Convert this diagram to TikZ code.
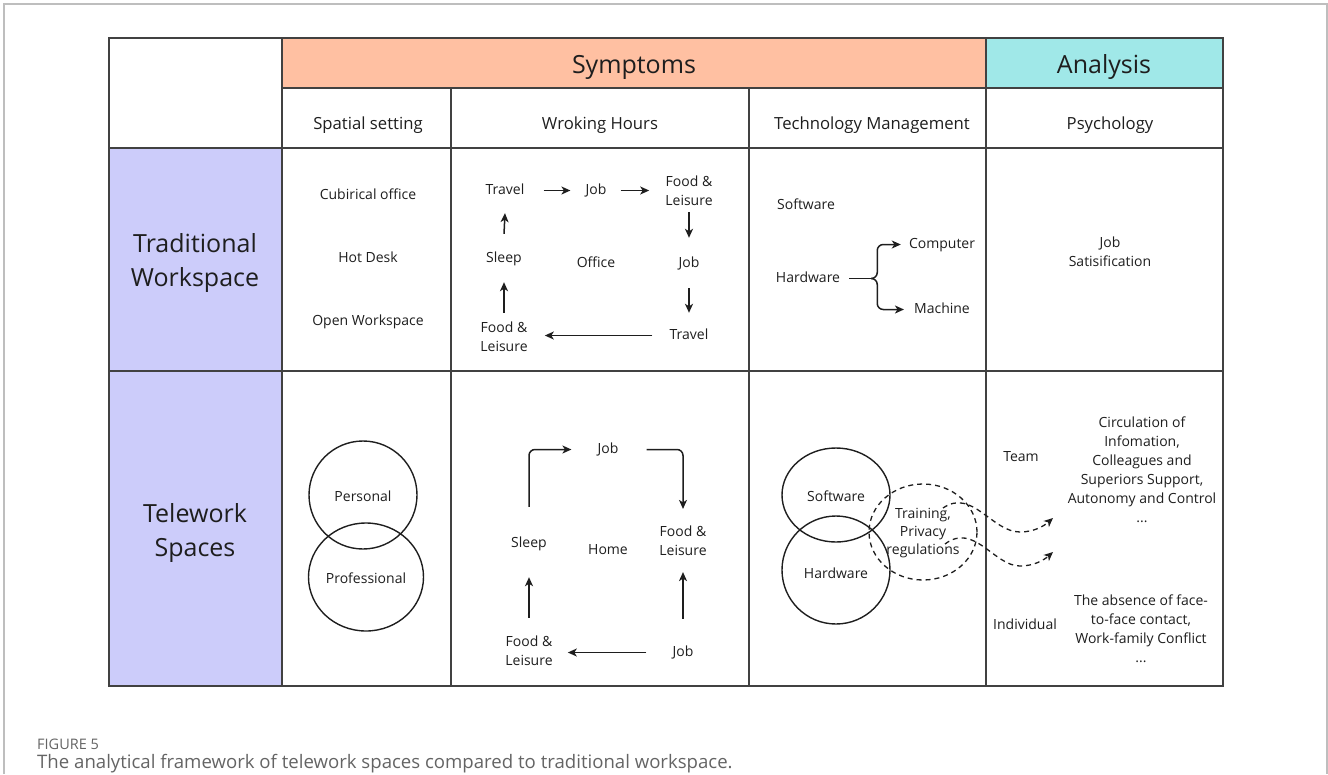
\documentclass[tikz,border=0pt]{standalone}
\usepackage{fontspec}
\setmainfont{Open Sans}
\usetikzlibrary{arrows.meta,shapes.geometric}
\definecolor{sympc}{RGB}{255,192,162}
\definecolor{analc}{RGB}{160,232,232}
\definecolor{rowc}{RGB}{204,204,250}
\definecolor{gridc}{RGB}{65,65,65}
\definecolor{txtc}{RGB}{30,30,30}
\definecolor{capc}{RGB}{100,100,100}
\definecolor{framec}{RGB}{190,190,190}
\tikzset{
  gridline/.style={draw=gridc, line width=1.9pt},
  body/.style={font=\fontsize{14}{19}\selectfont, text=txtc, align=center, inner sep=0pt, yshift=-1pt},
  lbl/.style={font=\fontsize{14}{19}\selectfont, text=txtc, align=center, inner sep=0pt, text height=10pt, text depth=3pt, yshift=-2.5pt},
  hdr/.style={font=\fontsize{16.7}{19}\selectfont, text=txtc, inner sep=0pt, yshift=-2pt},
  ttl/.style={font=\fontsize{25}{34}\selectfont, text=txtc, align=center, inner sep=0pt, yshift=-3pt},
  arr/.style={draw=txtc, line width=1.5pt, -{Stealth[length=9pt,width=8pt,inset=2.5pt]}},
  plain/.style={draw=txtc, line width=1.5pt},
  venn/.style={ellipse, draw=txtc, line width=1.4pt, inner sep=0pt},
  dsh/.style={draw=txtc, line width=1.3pt, dash pattern=on 5pt off 4pt},
}
\begin{document}
\begin{tikzpicture}[x=1pt,y=-1pt]
\useasboundingbox (0,0) rectangle (1328,774);
% outer frame
\draw[framec, line width=1.5pt] (4,774) -- (4,4) -- (1327,4) -- (1327,774);
% fills
\fill[sympc] (282,38) rectangle (986,88);
\fill[analc] (986,38) rectangle (1223,88);
\fill[rowc] (109,148) rectangle (282,371);
\fill[rowc] (109,371) rectangle (282,686);
% grid
\draw[gridline] (109,38) rectangle (1223,686);
\draw[gridline] (282,88) -- (1223,88);
\draw[gridline] (109,148) -- (1223,148);
\draw[gridline] (109,371) -- (1223,371);
\draw[gridline] (282,38) -- (282,686);
\draw[gridline] (451,88) -- (451,686);
\draw[gridline] (749,88) -- (749,686);
\draw[gridline] (986,38) -- (986,686);
% headers
\node[ttl] (symp) at (634,64) {Symptoms};
\node[ttl] (anal) at (1104,64) {Analysis};
\node[hdr] (h1) at (368,123) {Spatial setting};
\node[hdr] (h2) at (600,123) {Wroking Hours};
\node[hdr] (h3) at (872,123) {Technology Management};
\node[hdr] (h4) at (1110,123) {Psychology};
\node[ttl] (trad) at (195,260) {Traditional\\Workspace};
\node[ttl] (tele) at (195,530) {Telework\\Spaces};
% spatial traditional
\node[lbl] (cub) at (368,193) {Cubirical office};
\node[lbl] (hot) at (368,256) {Hot Desk};
\node[lbl] (open) at (368,319) {Open Workspace};
% working hours traditional
\node[lbl] (tr1) at (505,188) {Travel};
\node[lbl] (jb1) at (596,188) {Job};
\node[body] (fl1) at (689,190) {Food \&\\Leisure};
\node[lbl] (jb2) at (689,261) {Job};
\node[lbl] (tr2) at (689,333) {Travel};
\node[body] (fl2) at (504,336) {Food \&\\Leisure};
\node[lbl] (sl1) at (504,256) {Sleep};
\node[lbl] (off) at (596,261) {Office};
\draw[arr] ([xshift=19pt]tr1.east) -- ([xshift=-15pt]jb1.west);
\draw[arr] ([xshift=14pt]jb1.east) -- ([xshift=-16pt]fl1.west |- jb1.east);
\draw[arr] ([yshift=-6pt]fl1.south) -- ([yshift=19pt]jb2.north);
\draw[arr] ([yshift=-18pt]jb2.south) -- ([yshift=16pt]tr2.north);
\draw[arr] ([xshift=-17pt]tr2.west) -- ([xshift=17pt]fl2.east |- tr2.west);
\draw[arr] ([yshift=9pt]fl2.north) -- ([yshift=-17pt]sl1.south);
\draw[arr] ([yshift=18pt]sl1.north) -- ([yshift=-16pt]tr1.south);
% technology traditional
\node[lbl] (sw1) at (806,203) {Software};
\node[lbl] (hw1) at (808,276) {Hardware};
\node[lbl] (comp) at (942,242) {Computer};
\node[lbl] (mach) at (942,307) {Machine};
\draw[plain] ([xshift=9pt]hw1.east) -- ([xshift=31pt]hw1.east) coordinate (br);
\draw[arr, rounded corners=6pt] (br) -| ([xshift=6pt]br |- comp.west) -- ([xshift=-8pt]comp.west);
\draw[arr, rounded corners=6pt] (br) -| ([xshift=6pt]br |- mach.west) -- ([xshift=-10pt]mach.west);
% psychology traditional
\node[body] (js) at (1110,251) {Job\\Satisification};
% spatial telework
\node[venn, minimum width=108pt, minimum height=108pt] (pers) at (363,495) {};
\node[venn, minimum width=115pt, minimum height=108pt] (prof) at (366,577) {};
\node[lbl] (perst) at (pers.center) {Personal};
\node[lbl] (proft) at (prof.center) {Professional};
% working hours telework
\node[lbl] (jb3) at (608,447) {Job};
\node[body] (fl3) at (683,540) {Food \&\\Leisure};
\node[lbl] (sl2) at (529,541) {Sleep};
\node[lbl] (home) at (608,548) {Home};
\node[body] (fl4) at (529,650) {Food \&\\Leisure};
\node[lbl] (jb4) at (683,650) {Job};
\draw[arr, rounded corners=6pt] ([yshift=30pt]sl2.north) |- ([xshift=-26pt]jb3.west);
\draw[arr, rounded corners=6pt] ([xshift=28pt]jb3.east) -| ([yshift=17pt]fl3.north);
\draw[arr] ([yshift=18pt]fl4.north) -- ([yshift=-27pt]sl2.south);
\draw[arr] ([yshift=27pt]jb4.north) -- ([yshift=-16pt]fl3.south);
\draw[arr] ([xshift=-26pt]jb4.west) -- ([xshift=15pt]fl4.east |- jb4.west);
% technology telework
\node[venn, minimum width=108pt, minimum height=94pt] (sw2) at (836,495) {};
\node[venn, minimum width=108pt, minimum height=108pt] (hw2) at (836,570) {};
\node[lbl] (sw2t) at (sw2.center) {Software};
\node[lbl] (hw2t) at ([yshift=-2pt]hw2.center) {Hardware};
\node[ellipse, dsh, minimum width=108pt, minimum height=96pt, inner sep=0pt] (trn) at (923,532) {};
\node[body, font=\fontsize{14}{18}\selectfont] (trnt) at (trn.center) {Training,\\Privacy\\regulations};
\coordinate (d1s) at (943,508);
\coordinate (d1e) at (1053,518);
\coordinate (d2s) at (945,544);
\coordinate (d2e) at (1053,552);
\draw[dsh, -{Stealth[length=9pt,width=8pt,inset=2.5pt]}] (d1s) .. controls (972,488) and (992,532) .. (1020,532) .. controls (1034,532) and (1044,526) .. (d1e);
\draw[dsh, -{Stealth[length=9pt,width=8pt,inset=2.5pt]}] (d2s) .. controls (974,522) and (994,566) .. (1020,566) .. controls (1034,566) and (1044,560) .. (d2e);
% psychology telework
\node[lbl] (team) at (1021,455) {Team};
\node[lbl] (indiv) at (1025,623) {Individual};
\node[body] (circ) at (1142,469) {Circulation of\\Infomation,\\Colleagues and\\Superiors Support,\\Autonomy and Control\\...};
\node[body] (absn) at (1141,628) {The absence of face-\\to-face contact,\\Work-family Conflict\\...};
% caption
\node[anchor=west, inner sep=0pt, text=capc, font=\fontsize{14.5}{16}\selectfont] (fig) at (37,744) {FIGURE 5};
\node[anchor=west, inner sep=0pt, text=capc, font=\fontsize{18.6}{21}\selectfont] (cap) at (37,764) {The analytical framework of telework spaces compared to traditional workspace.};
\end{tikzpicture}
\end{document}
